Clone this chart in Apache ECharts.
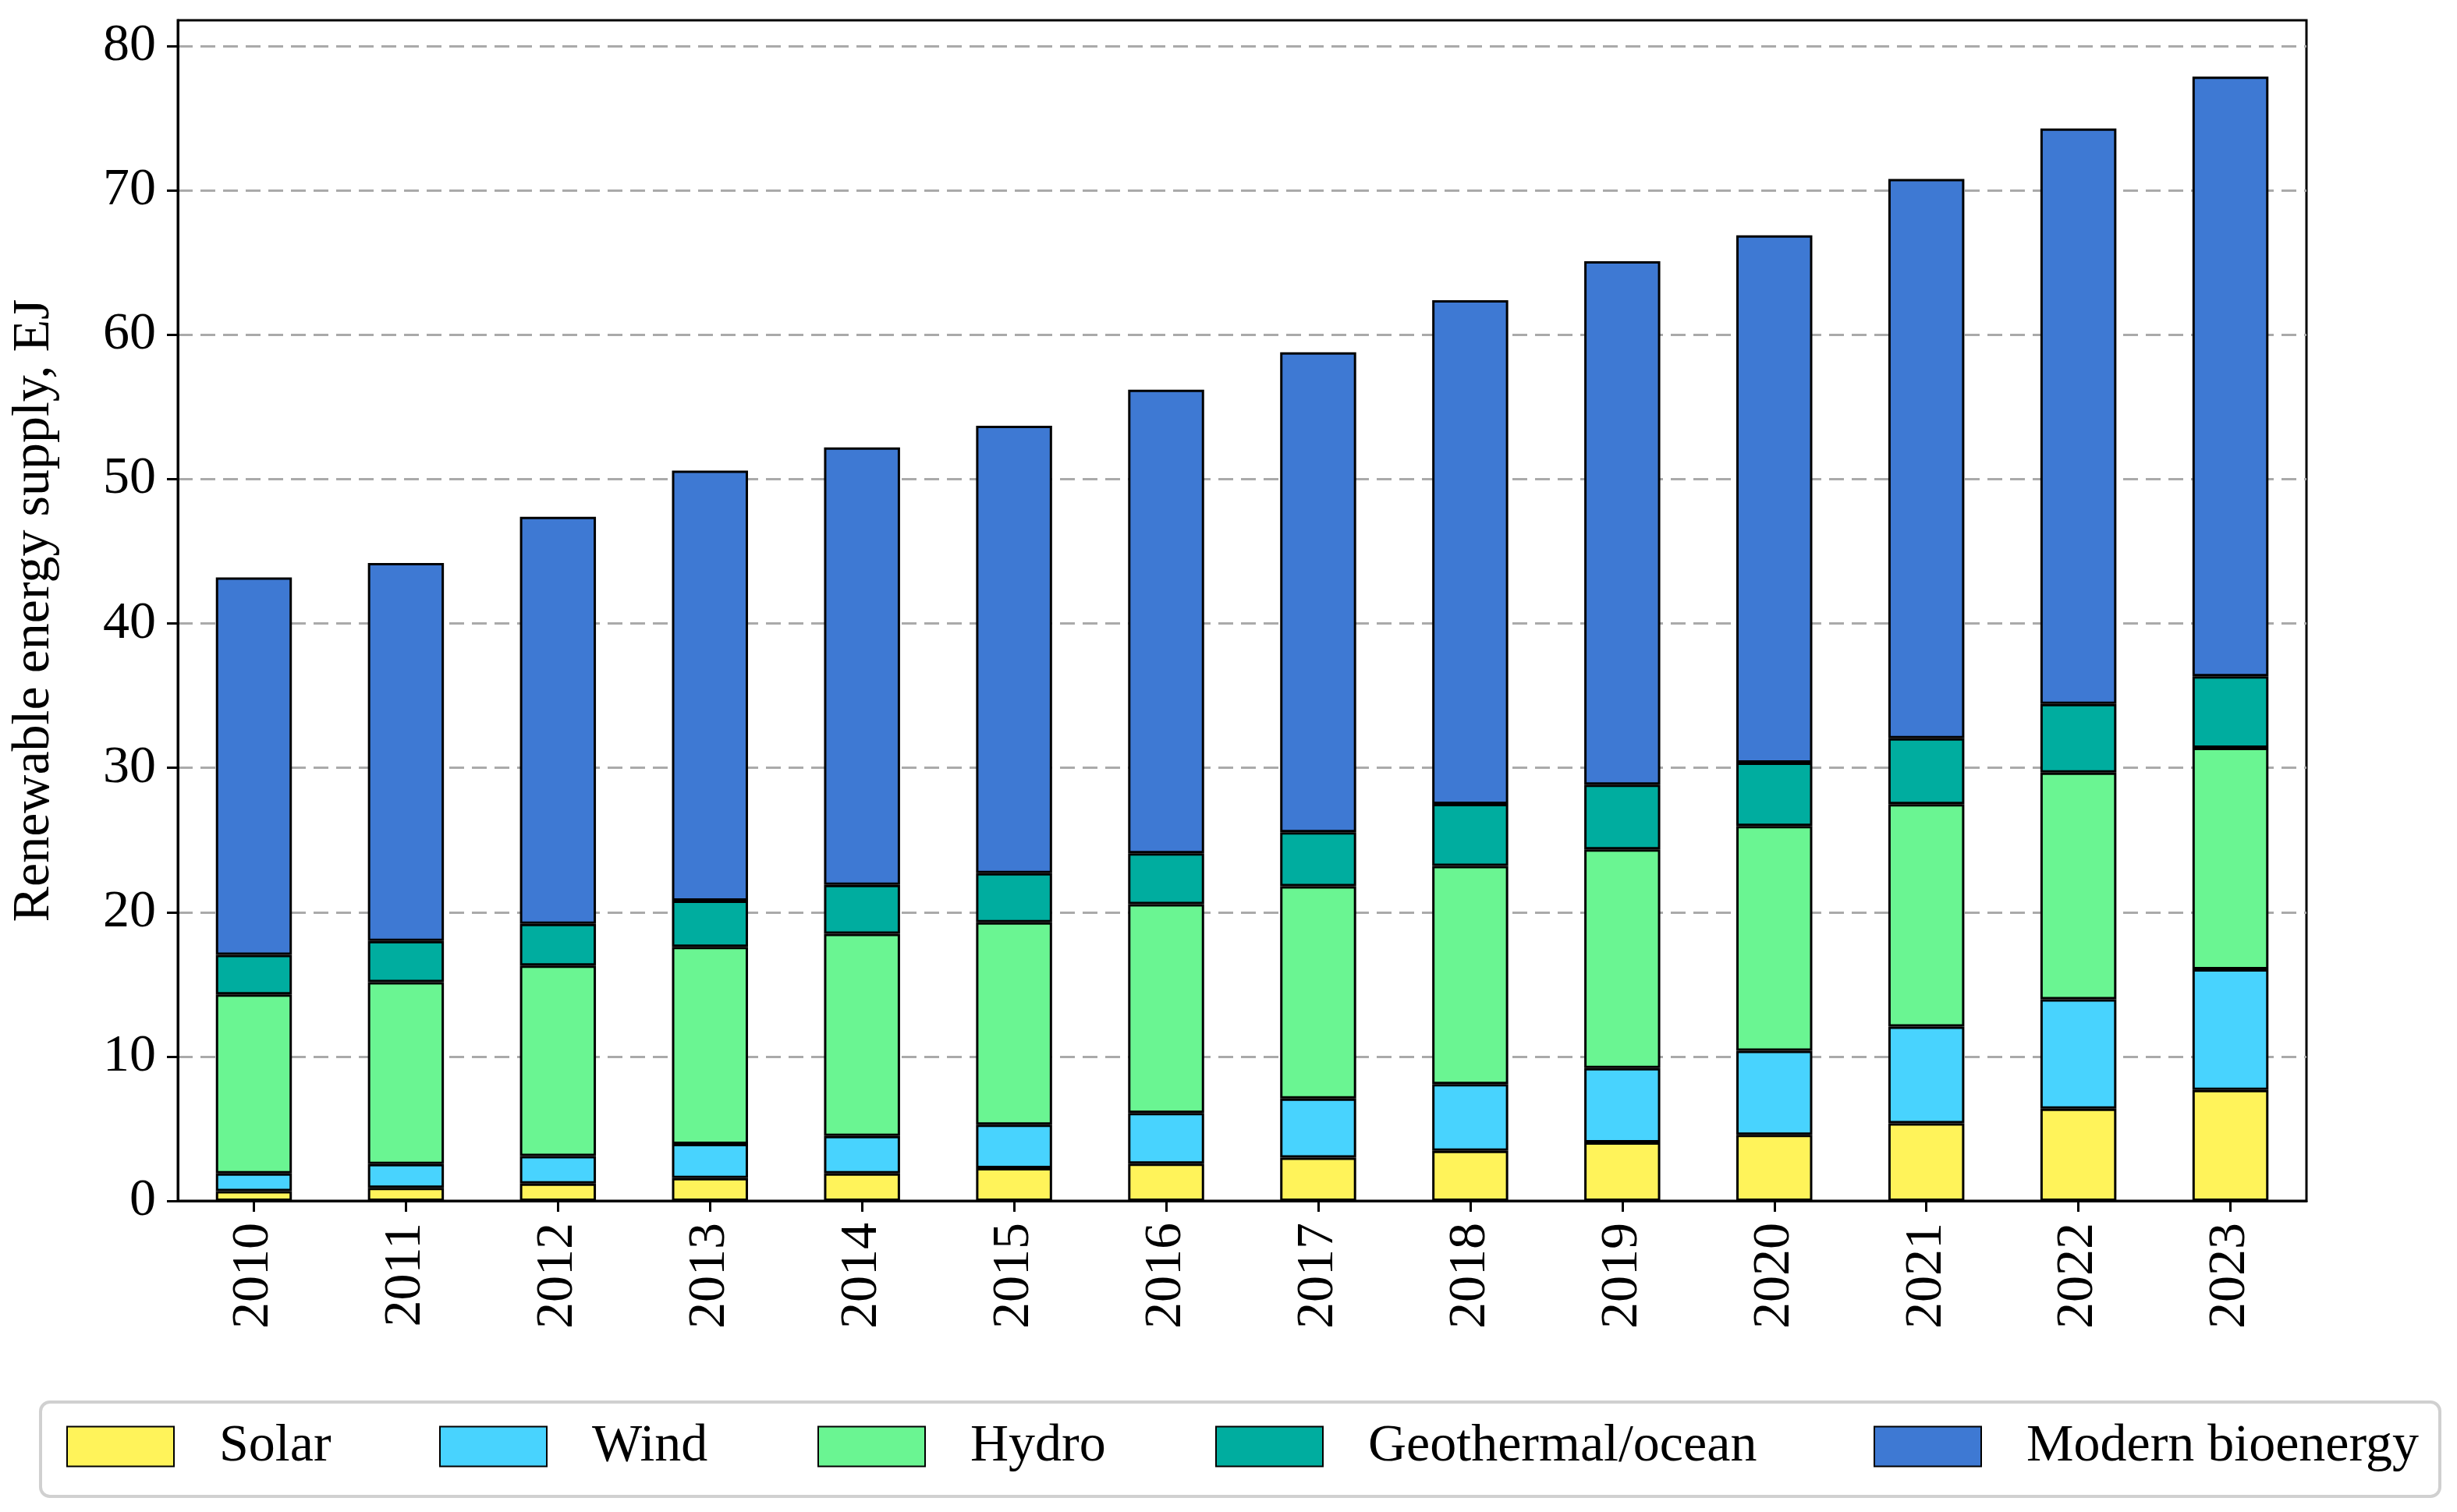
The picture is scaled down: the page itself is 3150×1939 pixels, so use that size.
<!DOCTYPE html>
<html>
<head>
<meta charset="utf-8">
<script src="https://cdn.jsdelivr.net/npm/echarts@6/dist/echarts.min.js"></script>
<style>
  html, body { margin: 0; padding: 0; background: #fff; }
  #chart { width: 3150px; height: 1939px; }
</style>
</head>
<body>
<div id="chart"></div>
<script>
const years = ['2010','2011','2012','2013','2014','2015','2016','2017','2018','2019','2020','2021','2022','2023'];
const solar = [0.68, 0.90, 1.20, 1.58, 1.90, 2.27, 2.58, 3.00, 3.47, 4.05, 4.58, 5.37, 6.39, 7.69];
const wind = [1.22, 1.65, 1.90, 2.36, 2.60, 3.01, 3.51, 4.09, 4.62, 5.15, 5.82, 6.71, 7.58, 8.36];
const hydro = [12.40, 12.60, 13.20, 13.66, 14.00, 14.02, 14.47, 14.71, 15.11, 15.15, 15.57, 15.41, 15.70, 15.34];
const geothermal = [2.75, 2.85, 2.90, 3.20, 3.40, 3.40, 3.52, 3.74, 4.30, 4.49, 4.39, 4.56, 4.76, 4.96];
const bioenergy = [26.15, 26.20, 28.20, 29.80, 30.30, 31.00, 32.12, 33.26, 34.90, 36.26, 36.54, 38.75, 39.87, 41.55];
const seriesNames = ['Solar', 'Wind', 'Hydro', 'Geothermal/ocean', 'Modern bioenergy'];
const seriesValues = [solar, wind, hydro, geothermal, bioenergy];
const seriesColors = ['#FFF35A', '#48D3FE', '#6AF592', '#00AD9F', '#3E79D3'];
const yTicks = [0, 10, 20, 30, 40, 50, 60, 70, 80];
const yMax = 81.8;
const yTitle = 'Renewable energy supply, EJ';

const FONT = '"Liberation Serif", "DejaVu Serif", serif';
const FS = 68;

const chart = echarts.init(document.getElementById('chart'), null, { renderer: 'canvas' });

const legendLefts = [80, 558, 1043, 1553, 2397];

const option = {
  animation: false,
  backgroundColor: '#ffffff',
  grid: {
    left: 228, right: 193, top: 26, bottom: 399,
    show: true, borderColor: '#000', borderWidth: 3, backgroundColor: 'transparent'
  },
  graphic: [{
    type: 'rect',
    z: -1,
    shape: { x: 52, y: 1798, width: 3076, height: 121, r: 12 },
    style: { fill: '#ffffff', stroke: '#d0d0d0', lineWidth: 4 }
  }],
  legend: seriesNames.map((n, i) => ({
    data: [{ name: n, icon: 'rect' }],
    left: legendLefts[i],
    top: 1816,
    itemWidth: 137,
    itemHeight: 51,
    selectedMode: false,
    textStyle: {
      fontFamily: FONT, fontSize: FS, color: '#000',
      lineHeight: 68, padding: [0, 0, 0, 53]
    }
  })),
  xAxis: {
    type: 'category',
    data: years,
    boundaryGap: true,
    axisLine: { show: true, lineStyle: { color: '#000', width: 3 } },
    axisTick: { show: true, alignWithLabel: true, length: 14, lineStyle: { color: '#000', width: 3 } },
    axisLabel: {
      rotate: 90, margin: 28,
      fontFamily: FONT, fontSize: FS, color: '#000'
    },
    splitLine: { show: false }
  },
  yAxis: {
    type: 'value',
    min: 0,
    max: yMax,
    interval: 10,
    name: yTitle,
    nameLocation: 'middle',
    nameGap: 150,
    nameTextStyle: { fontFamily: FONT, fontSize: FS, color: '#000' },
    axisLine: { show: true, lineStyle: { color: '#000', width: 3 } },
    axisTick: { show: true, length: 14, customValues: yTicks, lineStyle: { color: '#000', width: 3 } },
    axisLabel: {
      margin: 28, customValues: yTicks,
      fontFamily: FONT, fontSize: FS, color: '#000'
    },
    splitLine: {
      show: true,
      lineStyle: { color: '#aaaaaa', width: 3, type: [19, 10] }
    }
  },
  series: seriesNames.map((n, i) => ({
    name: n,
    type: 'bar',
    stack: 'total',
    barWidth: '50%',
    data: seriesValues[i],
    itemStyle: { color: seriesColors[i], borderColor: '#000', borderWidth: 3 },
    emphasis: { disabled: true }
  }))
};

chart.setOption(option);
</script>
</body>
</html>
